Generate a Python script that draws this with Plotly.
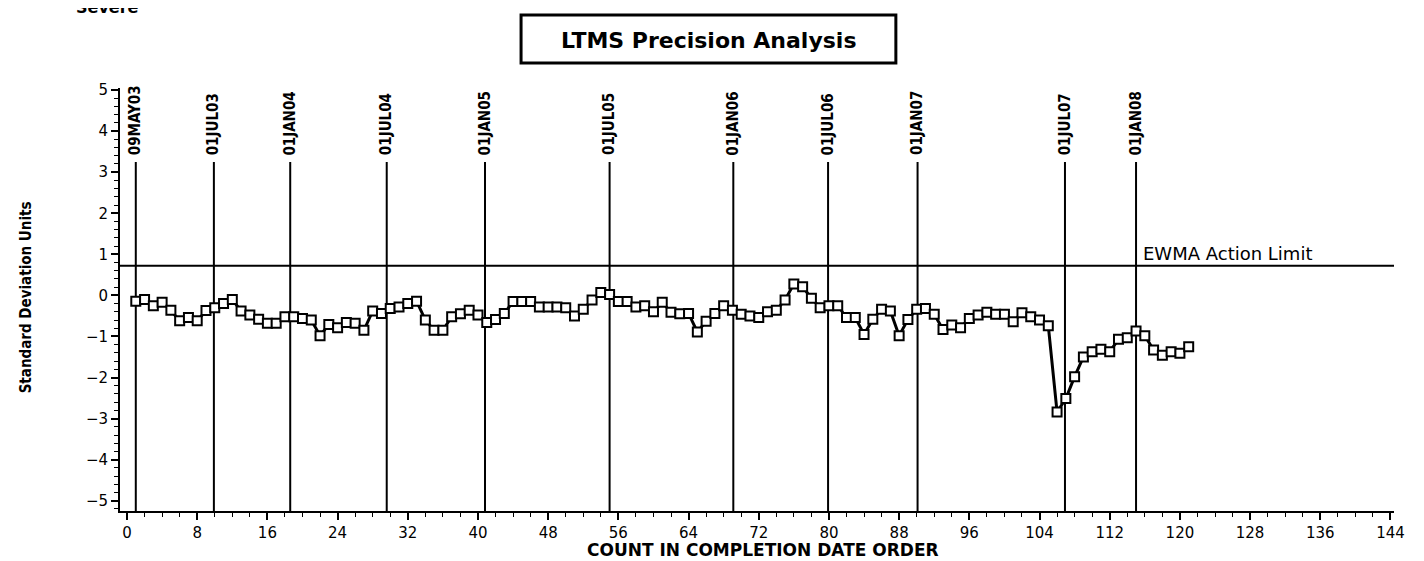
import plotly.graph_objects as go

# ---- data ----
counts = list(range(1, 122))
ewma = [
    -0.14, -0.10, -0.25, -0.17, -0.36, -0.62, -0.54, -0.62, -0.37, -0.30,
    -0.20, -0.10, -0.38, -0.48, -0.58, -0.68, -0.68, -0.52, -0.52, -0.56,
    -0.60, -0.98, -0.71, -0.79, -0.66, -0.68, -0.85, -0.38, -0.44, -0.32,
    -0.28, -0.20, -0.14, -0.60, -0.85, -0.85, -0.52, -0.45, -0.36, -0.48,
    -0.66, -0.59, -0.44, -0.15, -0.15, -0.15, -0.28, -0.28, -0.28, -0.30,
    -0.50, -0.34, -0.11, 0.07, 0.02, -0.15, -0.15, -0.28, -0.25, -0.40,
    -0.17, -0.41, -0.45, -0.44, -0.89, -0.63, -0.44, -0.25, -0.36, -0.46,
    -0.50, -0.54, -0.40, -0.36, -0.11, 0.28, 0.21, -0.07, -0.30, -0.25,
    -0.25, -0.54, -0.54, -0.95, -0.58, -0.34, -0.38, -0.98, -0.59, -0.34,
    -0.32, -0.46, -0.83, -0.72, -0.79, -0.56, -0.48, -0.41, -0.46, -0.46,
    -0.64, -0.42, -0.52, -0.60, -0.74, -2.84, -2.51, -1.98, -1.50, -1.37,
    -1.31, -1.37, -1.07, -1.03, -0.87, -0.98, -1.33, -1.46, -1.37, -1.41,
    -1.25,
]
date_labels = ["09MAY03", "01JUL03", "01JAN04", "01JUL04", "01JAN05", "01JUL05",
               "01JAN06", "01JUL06", "01JAN07", "01JUL07", "01JAN08"]
date_positions = [1, 9.9, 18.6, 29.6, 40.8, 55.0, 69.1, 79.9, 90.1, 106.9, 115.0]
action_limit = 0.72
action_label = "EWMA Action Limit"
title_text = "LTMS Precision Analysis"
corner_text = "Severe"
x_title = "COUNT IN COMPLETION DATE ORDER"
y_title = "Standard Deviation Units"
x_ticks = list(range(0, 145, 8))
y_ticks = list(range(-5, 6))

Y_MIN, Y_MAX = -5.25, 5.05
LINE_TOP = 3.25

WIDE = "DejaVu Sans, Verdana, sans-serif"
NARROW = "Liberation Sans Narrow, DejaVu Sans Condensed, Arial Narrow, sans-serif"

fig = go.Figure()

fig.add_trace(go.Scatter(
    x=counts, y=ewma, mode="lines+markers",
    line=dict(color="black", width=3),
    marker=dict(symbol="square", size=9, color="white",
                line=dict(color="black", width=2)),
    showlegend=False, hoverinfo="x+y",
))

shapes = []
annotations = []
for pos, lab in zip(date_positions, date_labels):
    shapes.append(dict(type="line", xref="x", yref="y", x0=pos, x1=pos,
                       y0=Y_MIN, y1=LINE_TOP, line=dict(color="black", width=2),
                       layer="below"))
    annotations.append(dict(x=pos, y=3.36, xref="x", yref="y", text=f"<b>{lab}</b>",
                            textangle=-90, showarrow=False, xanchor="center",
                            yanchor="bottom",
                            font=dict(family=NARROW, size=15, color="black")))

shapes.append(dict(type="line", xref="paper", yref="y", x0=0, x1=1,
                   y0=action_limit, y1=action_limit,
                   line=dict(color="black", width=2), layer="below"))
annotations.append(dict(x=115.6, y=action_limit, xref="x", yref="y",
                        text=action_label, showarrow=False, xanchor="left",
                        yanchor="bottom", yshift=0,
                        font=dict(family=WIDE, size=18, color="black")))

# title box
shapes.append(dict(type="rect", xref="paper", yref="paper",
                   x0=0.3148, x1=0.609, y0=1.059, y1=1.1726,
                   line=dict(color="black", width=3)))
annotations.append(dict(x=0.4623, y=1.113, xref="paper", yref="paper",
                        text=f"<b>{title_text}</b>", showarrow=False,
                        xanchor="center", yanchor="middle",
                        font=dict(family=WIDE, size=22, color="black")))
annotations.append(dict(x=-0.0098, y=1.19, xref="paper", yref="paper",
                        text=f"<b>{corner_text}</b>", showarrow=False,
                        xanchor="center", yanchor="middle",
                        font=dict(family=WIDE, size=16, color="black")))
annotations.append(dict(x=-0.0738, y=0.505, xref="paper", yref="paper",
                        text=f"<b>{y_title}</b>", showarrow=False, textangle=-90,
                        xanchor="center", yanchor="middle",
                        font=dict(family=NARROW, size=15, color="black")))
annotations.append(dict(x=0.5047, y=-0.092, xref="paper", yref="paper",
                        text=f"<b>{x_title}</b>", showarrow=False,
                        xanchor="center", yanchor="middle",
                        font=dict(family=WIDE, size=17, color="black")))

fig.update_layout(
    width=1424, height=561,
    margin=dict(l=112, r=38, t=80, b=58),
    paper_bgcolor="white", plot_bgcolor="white",
    shapes=shapes, annotations=annotations,
    xaxis=dict(range=[-0.8, 144.4], tickvals=x_ticks, ticktext=[str(v) for v in x_ticks],
               showgrid=False, zeroline=False, showline=True, linecolor="black",
               linewidth=2, ticks="outside", ticklen=7, tickwidth=2, tickcolor="black",
               tickfont=dict(family=WIDE, size=15, color="black"),
               minor=dict(dtick=2, tick0=0, ticks="outside", ticklen=4,
                          tickwidth=1, tickcolor="black")),
    yaxis=dict(range=[Y_MIN, Y_MAX], tickvals=y_ticks, ticktext=[str(v).replace("-", "\u2212") for v in y_ticks],
               showgrid=False, zeroline=False, showline=True, linecolor="black",
               linewidth=2, ticks="outside", ticklen=7, tickwidth=2, tickcolor="black",
               tickfont=dict(family=WIDE, size=15, color="black"),
               minor=dict(dtick=0.2, tick0=0, ticks="outside", ticklen=4,
                          tickwidth=1, tickcolor="black")),
)

fig.write_html("out.html")
